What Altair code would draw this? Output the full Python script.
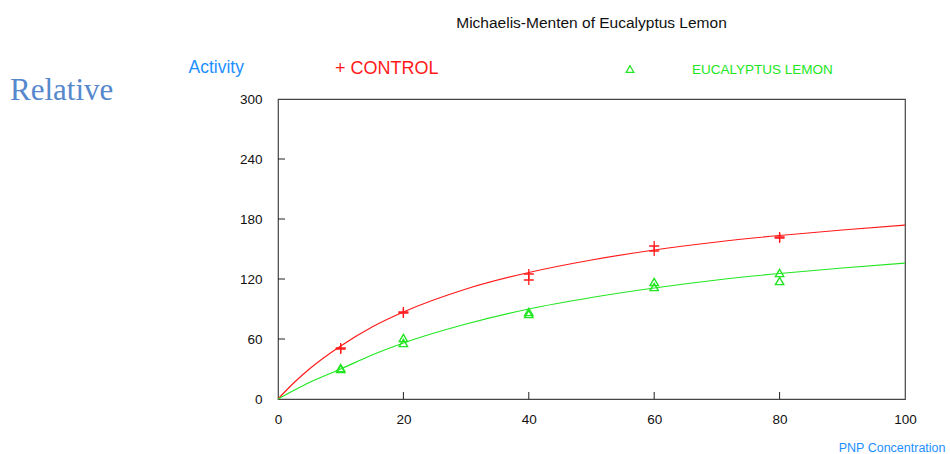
import altair as alt
import pandas as pd

# ---- data ----
dose = [10, 10, 20, 20, 40, 40, 60, 60, 80, 80]
control = [51, 50, 87, 86, 125, 119, 153, 148, 162, 161]
eucalyptus = [31, 30, 61, 56, 87, 85, 117, 112, 126, 118]

curve_x = [0, 2.5, 5, 10, 15, 20, 30, 40, 50, 60, 70, 80, 90, 100]
control_fit = [0, 16, 30, 53, 72, 87, 110, 126.5, 139, 149, 157, 163.5, 169, 174]
eucalyptus_fit = [0, 8.5, 16.5, 30, 44, 56, 75, 90, 101.5, 111, 119, 125.5, 131, 136]

y_tick_values = [0, 60, 120, 180, 240, 300]
x_tick_values = [0, 20, 40, 60, 80, 100]
y_inner_ticks = [60, 120, 180, 240]
x_inner_ticks = [20, 40, 60, 80]

TITLE = "Michaelis-Menten of Eucalyptus Lemon"

RED = "#FF1A1A"
GREEN = "#22E622"
BLUE = "#1E8FFF"
FONT = "Liberation Sans"

W, H = 627, 300
PAD = {"left": 278, "top": 99, "right": 45, "bottom": 55}

xs = alt.Scale(domain=[0, 100], nice=False, zero=True)
ys = alt.Scale(domain=[0, 300], nice=False, zero=True)

curves = pd.DataFrame({
    "x": curve_x * 2,
    "y": control_fit + eucalyptus_fit,
    "series": ["CONTROL"] * len(curve_x) + ["EUCALYPTUS LEMON"] * len(curve_x),
})
ctrl_df = pd.DataFrame({"x": dose, "y": control})
euc_df = pd.DataFrame({"x": dose, "y": eucalyptus})

x_axis = alt.Axis(
    values=x_tick_values, grid=False, ticks=False, domain=False, labelFlush=False,
    labelFont=FONT, labelFontSize=13.5, labelColor="#111", labelPadding=13,
    title="PNP Concentration", titleFont=FONT, titleFontSize=12.5,
    titleFontWeight="normal", titleColor=BLUE, titleAlign="right",
    titleAnchor="end", titleX=667, titleY=52, titleBaseline="alphabetic",
)
y_axis = alt.Axis(
    values=y_tick_values, grid=False, ticks=False, domain=False, labelFlush=False,
    labelFont=FONT, labelFontSize=13.5, labelColor="#111", labelPadding=16,
    title="Activity", titleFont=FONT, titleFontSize=17.5,
    titleFontWeight="normal", titleColor=BLUE, titleAngle=0,
    titleAlign="left", titleX=-90, titleY=-27, titleBaseline="alphabetic",
)

lines = alt.Chart(curves).mark_line(interpolate="monotone", strokeWidth=1.2).encode(
    x=alt.X("x:Q", scale=xs, axis=x_axis),
    y=alt.Y("y:Q", scale=ys, axis=y_axis),
    color=alt.Color("series:N", scale=alt.Scale(domain=["CONTROL", "EUCALYPTUS LEMON"],
                                                range=[RED, GREEN]), legend=None),
)

cross_path = "M-1,0L1,0M0,-1L0,1"
ctrl_pts = alt.Chart(ctrl_df).mark_point(
    shape=cross_path, filled=False, size=100, strokeWidth=1.3, color=RED, opacity=1
).encode(x=alt.X("x:Q", scale=xs), y=alt.Y("y:Q", scale=ys))

euc_pts = alt.Chart(euc_df).mark_point(
    shape="triangle-up", filled=False, size=70, strokeWidth=1.4, color=GREEN, opacity=1
).encode(x=alt.X("x:Q", scale=xs), y=alt.Y("y:Q", scale=ys))

y_ticks = alt.Chart(pd.DataFrame({"v": y_inner_ticks})).mark_rule(
    color="#222", strokeWidth=1
).encode(y=alt.Y("v:Q", scale=ys), x=alt.value(0), x2=alt.value(7))

x_ticks = alt.Chart(pd.DataFrame({"v": x_inner_ticks})).mark_rule(
    color="#222", strokeWidth=1
).encode(x=alt.X("v:Q", scale=xs), y=alt.value(H), y2=alt.value(H - 7))


def label(text, x, y, size, color, font=FONT, align="left"):
    return alt.Chart(pd.DataFrame({"t": [text]})).mark_text(
        align=align, baseline="alphabetic", font=font, fontSize=size, color=color
    ).encode(text="t:N", x=alt.value(x), y=alt.value(y))


title = label(TITLE, W / 2, -71, 15.5, "#111", align="center")
relative = label("Relative", -268, 1, 31, "#5588CC", font="Liberation Serif")
leg_ctrl = label("+ CONTROL", 57, -25, 18, RED)
leg_euc = label("EUCALYPTUS LEMON", 414, -25, 13.5, GREEN)
leg_tri = alt.Chart(pd.DataFrame({"t": ["EUCALYPTUS LEMON"]})).mark_point(
    shape="triangle-up", filled=False, size=60, strokeWidth=1.2, color=GREEN, opacity=1
).encode(x=alt.value(352), y=alt.value(-30))

chart = alt.layer(
    lines, ctrl_pts, euc_pts, y_ticks, x_ticks, title, relative, leg_ctrl, leg_euc, leg_tri
).properties(
    width=W, height=H,
    autosize=alt.AutoSizeParams(type="none"),
    padding=PAD,
).configure_view(stroke="#444", strokeWidth=1.2)

chart.save("out.html", embed_options={"renderer": "svg", "actions": False})
